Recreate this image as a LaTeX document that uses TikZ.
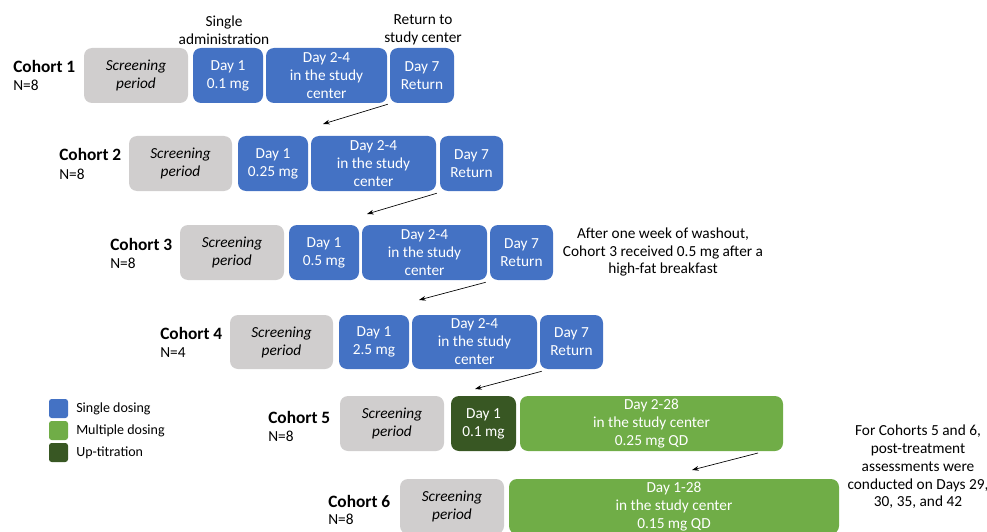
\documentclass[tikz,border=0pt]{standalone}
\usepackage{fontspec}
\setmainfont{Carlito}
\usetikzlibrary{arrows.meta}
\definecolor{sblue}{HTML}{4472C4}
\definecolor{sgray}{HTML}{D0CECE}
\definecolor{mgreen}{HTML}{70AD47}
\definecolor{dgreen}{HTML}{385723}
\newcommand{\mybox}[7]{\node[#2, minimum width={(#5-#3)*0.75pt}, minimum height={(#6-#4)*0.75pt}] (#1) at ({(#3+#5)/2},{(#4+#6)/2+1}) {#7};}
\tikzset{
  box/.style={rounded corners=6pt, inner sep=0pt, align=center, font=\fontsize{11.5}{13.5}\selectfont},
  scr/.style={box, fill=sgray, font=\fontsize{11.5}{13.5}\selectfont\itshape},
  sd/.style={box, fill=sblue, text=white},
  md/.style={box, fill=mgreen, text=white},
  ut/.style={box, fill=dgreen, text=white},
  coh/.style={inner sep=0pt, anchor=base west, font=\fontsize{13}{15}\selectfont\bfseries},
  nlab/.style={inner sep=0pt, anchor=base west, font=\fontsize{11.5}{13.5}\selectfont},
  note/.style={inner sep=0pt, align=center, font=\fontsize{11.5}{13.3}\selectfont},
  leg/.style={rounded corners=2pt, inner sep=0pt},
  legtxt/.style={inner sep=0pt, anchor=base west, font=\fontsize{10.5}{12}\selectfont},
  arr/.style={-{Stealth[length=5pt,width=3.5pt]}, line width=0.5pt}
}
\begin{document}
\begin{tikzpicture}[x=0.75pt, y=-0.75pt]
\useasboundingbox (0,0) rectangle (987,531);
% Row 1
\mybox{s1}{scr}{84}{47}{188}{102}{Screening\\period}
\mybox{a1}{sd}{193}{47}{263}{102}{Day 1\\0.1 mg}
\mybox{b1}{sd}{266}{47}{387}{102}{Day 2-4\\in the study\\center}
\mybox{c1}{sd}{390}{47}{454}{102}{Day 7\\Return}
\node[coh] (k1) at (13,73) {Cohort 1};
\node[nlab] (n1) at (13,91) {N=8};
% Row 2
\mybox{s2}{scr}{129}{135}{232}{190}{Screening\\period}
\mybox{a2}{sd}{238}{135}{308}{190}{Day 1\\0.25 mg}
\mybox{b2}{sd}{311}{135}{436}{190}{Day 2-4\\in the study\\center}
\mybox{c2}{sd}{440}{135}{503}{190}{Day 7\\Return}
\node[coh] (k2) at (59,161) {Cohort 2};
\node[nlab] (n2) at (59,179) {N=8};
% Row 3
\mybox{s3}{scr}{180}{224}{284}{279}{Screening\\period}
\mybox{a3}{sd}{289}{224}{359}{279}{Day 1\\0.5 mg}
\mybox{b3}{sd}{362}{224}{487}{279}{Day 2-4\\in the study\\center}
\mybox{c3}{sd}{490}{224}{553}{279}{Day 7\\Return}
\node[coh] (k3) at (110,250) {Cohort 3};
\node[nlab] (n3) at (110,268) {N=8};
% Row 4
\mybox{s4}{scr}{230}{314}{333}{368}{Screening\\period}
\mybox{a4}{sd}{339}{314}{409}{368}{Day 1\\2.5 mg}
\mybox{b4}{sd}{412}{314}{537}{368}{Day 2-4\\in the study\\center}
\mybox{c4}{sd}{540}{314}{603}{368}{Day 7\\Return}
\node[coh] (k4) at (160,339) {Cohort 4};
\node[nlab] (n4) at (160,357) {N=4};
% Row 5
\mybox{s5}{scr}{340}{395}{444}{450}{Screening\\period}
\mybox{a5}{ut}{451}{395}{516}{450}{Day 1\\0.1 mg}
\mybox{b5}{md}{520}{395}{783}{450}{Day 2-28\\in the study center\\0.25 mg QD}
\node[coh] (k5) at (268,423) {Cohort 5};
\node[nlab] (n5) at (268,441) {N=8};
% Row 6
\mybox{s6}{scr}{400}{478}{504}{533}{Screening\\period}
\mybox{b6}{md}{509}{478}{839}{533}{Day 1-28\\in the study center\\0.15 mg QD}
\node[coh] (k6) at (328,507) {Cohort 6};
\node[nlab] (n6) at (328,524) {N=8};
% Top notes
\node[note] (t1) at (224,30) {Single\\administration};
\node[note] (t2) at (423,30) {Return to\\study center};
% Side notes
\node[note] (t3) at (663,252) {After one week of washout,\\Cohort 3 received 0.5 mg after a\\high-fat breakfast};
\node[note] (t4) at (918,467) {For Cohorts 5 and 6,\\post-treatment\\assessments were\\conducted on Days 29,\\30, 35, and 42};
% Arrows
\coordinate (e1) at (323,124);
\coordinate (e2) at (367,214);
\coordinate (e3) at (419,300);
\coordinate (e4) at (475,389);
\coordinate (e5) at (692,470);
\coordinate (f5) at (758,453);
\draw[arr] ([shift={(-2,1)}]c1.south west) -- (e1);
\draw[arr] ([shift={(-3,2)}]c2.south west) -- (e2);
\draw[arr] ([shift={(-4,2)}]c3.south west) -- (e3);
\draw[arr] ([shift={(2,2)}]c4.south west) -- (e4);
\draw[arr] (f5) -- (e5);
% Legend
\node[leg, fill=sblue, minimum width=19*0.75pt, minimum height=19*0.75pt] (l1) at (58.5,408.5) {};
\node[leg, fill=mgreen, minimum width=19*0.75pt, minimum height=19*0.75pt] (l2) at (58.5,430.5) {};
\node[leg, fill=dgreen, minimum width=19*0.75pt, minimum height=19*0.75pt] (l3) at (58.5,452.5) {};
\node[legtxt] (m1) at (76,412) {Single dosing};
\node[legtxt] (m2) at (76,434) {Multiple dosing};
\node[legtxt] (m3) at (76,456) {Up-titration};
\end{tikzpicture}
\end{document}
